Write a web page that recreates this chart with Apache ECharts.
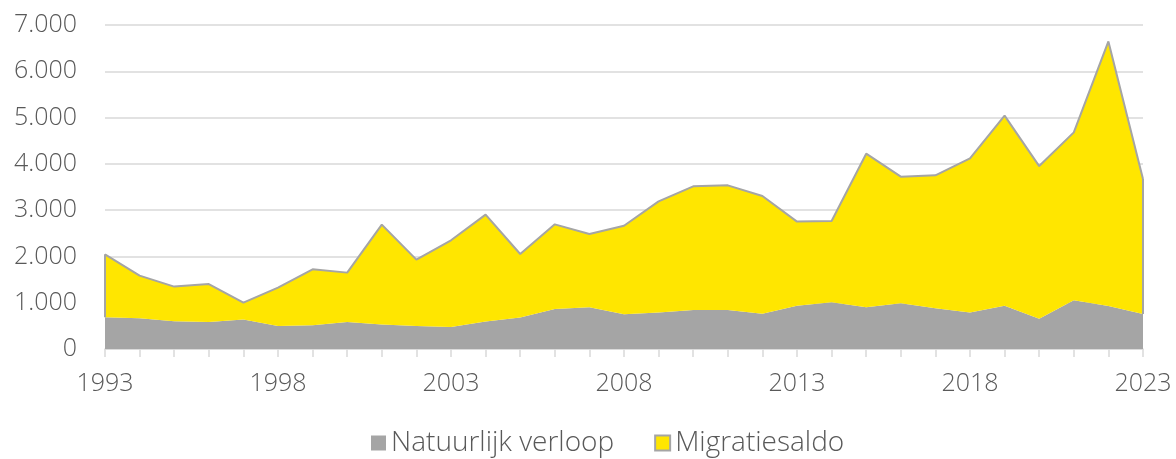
<!DOCTYPE html>
<html>
    <head>
        <meta charset="utf-8">
        <title>Bevolkingsgroei</title>
        <script src="https://cdn.jsdelivr.net/npm/echarts@6/dist/echarts.min.js"></script>
    </head>
    <body style="margin:0;">
        <div id="main" style="width:1176px;height:459px;"></div>

        <script type="text/javascript">
            // jaren
            var years = [];
            for (var y = 1993; y <= 2023; y++) years.push(String(y));

            var natuurlijk = [685, 663, 598, 583, 635, 497, 512, 583, 527, 497,
                              475, 595, 678, 864, 901, 749, 786, 842, 842, 764,
                              937, 1009, 901, 987, 879, 786, 937, 656, 1052, 929, 756];
            var migratie = [1360, 922, 750, 821, 367, 829, 1209, 1067, 2160, 1434,
                            1873, 2308, 1374, 1829, 1583, 1915, 2404, 2672, 2694, 2541,
                            1815, 1756, 3319, 2736, 2873, 3333, 4104, 3296, 3628, 5717, 2916];

            var grijs = '#a5a5a5';
            var geel = '#ffe600';
            var tekst = '#595959';
            var font = 'Open Sans';

            var last = years.length - 1;
            // verticale randen van het gele vlak
            var randen = [
                [{coord: [years[0], natuurlijk[0]]}, {coord: [years[0], natuurlijk[0] + migratie[0]]}],
                [{coord: [years[last], natuurlijk[last]]}, {coord: [years[last], natuurlijk[last] + migratie[last]]}]
            ];

            var myChart = echarts.init(document.getElementById('main'));
            myChart.setOption({
                animation: false,
                grid: {left: 105, right: 33, top: 25, bottom: 110},
                legend: {
                    bottom: -3,
                    left: 366,
                    icon: 'rect',
                    itemWidth: 15,
                    itemHeight: 15,
                    itemGap: 40,
                    itemTextGap: 7,
                    textStyle: {fontFamily: font, fontSize: 28, fontWeight: 300, color: tekst},
                    data: ['Natuurlijk verloop', 'Migratiesaldo']
                },
                xAxis: {
                    type: 'category',
                    boundaryGap: false,
                    data: years,
                    axisLine: {lineStyle: {color: '#d9d9d9', width: 1.5}},
                    axisTick: {show: true, interval: 0, length: 8, lineStyle: {color: '#d9d9d9', width: 1.5}},
                    axisLabel: {interval: 4, margin: 22, fontFamily: font, fontSize: 25, fontWeight: 300, color: tekst}
                },
                yAxis: {
                    type: 'value',
                    min: 0,
                    max: 7000,
                    interval: 1000,
                    axisLine: {show: false},
                    axisTick: {show: false},
                    splitLine: {lineStyle: {color: '#d9d9d9', width: 1.5}},
                    axisLabel: {
                        margin: 28,
                        fontFamily: font,
                        fontSize: 25,
                        fontWeight: 300,
                        color: tekst,
                        formatter: function (v) {
                            return String(v).replace(/\B(?=(\d{3})+(?!\d))/g, '.');
                        }
                    }
                },
                series: [
                    {
                        name: 'Natuurlijk verloop',
                        type: 'line',
                        stack: 'totaal',
                        data: natuurlijk,
                        showSymbol: false,
                        itemStyle: {color: grijs},
                        lineStyle: {width: 0},
                        areaStyle: {color: grijs, opacity: 1}
                    },
                    {
                        name: 'Migratiesaldo',
                        type: 'line',
                        stack: 'totaal',
                        data: migratie,
                        showSymbol: false,
                        itemStyle: {color: geel, borderColor: grijs, borderWidth: 1.5},
                        lineStyle: {color: grijs, width: 2},
                        areaStyle: {color: geel, opacity: 1},
                        markLine: {
                            silent: true,
                            symbol: 'none',
                            label: {show: false},
                            lineStyle: {color: grijs, width: 2, type: 'solid'},
                            data: randen
                        }
                    }
                ]
            });
        </script>
    </body>
</html>
